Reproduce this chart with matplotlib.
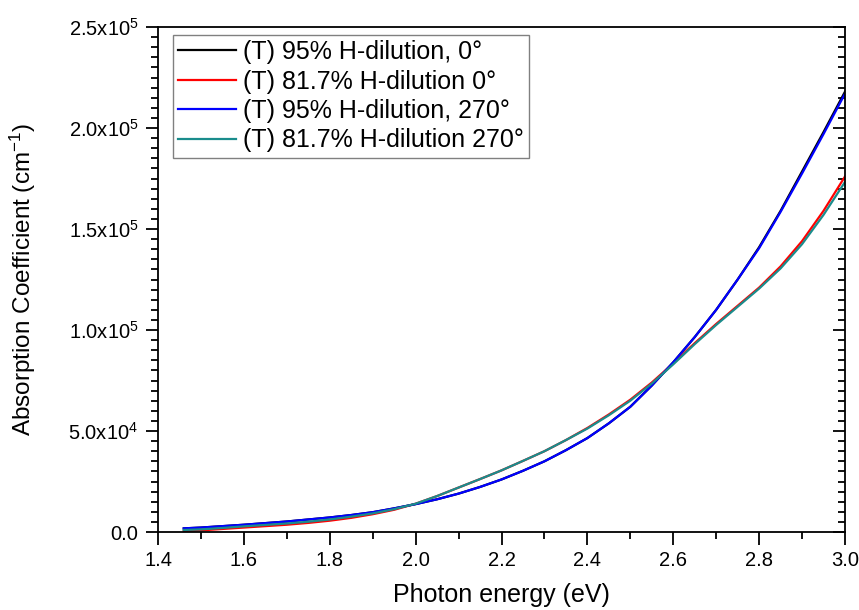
import numpy as np
import matplotlib
matplotlib.use('Agg')
import matplotlib.pyplot as plt
from matplotlib.ticker import MultipleLocator, FuncFormatter

plt.rcParams['font.family'] = ['Liberation Sans', 'DejaVu Sans']
plt.rcParams['mathtext.default'] = 'regular'

# photon energy (eV)
energy = [1.46, 1.5, 1.55, 1.6, 1.65, 1.7, 1.75, 1.8, 1.85, 1.9, 1.95, 2.0,
          2.05, 2.1, 2.15, 2.2, 2.25, 2.3, 2.35, 2.4, 2.45, 2.5, 2.55, 2.6,
          2.65, 2.7, 2.75, 2.8, 2.85, 2.9, 2.95, 3.0]

# absorption coefficient (cm^-1)
h95_0 = [1.8e3, 2.2e3, 2.9e3, 3.6e3, 4.4e3, 5.2e3, 6.2e3, 7.2e3, 8.4e3, 9.8e3, 1.17e4, 1.38e4,
         1.62e4, 1.9e4, 2.23e4, 2.6e4, 3.03e4, 3.5e4, 4.05e4, 4.65e4, 5.38e4, 6.2e4, 7.25e4, 8.4e4,
         9.65e4, 1.10e5, 1.25e5, 1.41e5, 1.59e5, 1.785e5, 1.98e5, 2.18e5]
h817_0 = [5e2, 8e2, 1.5e3, 2.2e3, 2.9e3, 3.6e3, 4.5e3, 5.6e3, 7.0e3, 8.8e3, 1.1e4, 1.4e4,
          1.78e4, 2.2e4, 2.62e4, 3.05e4, 3.52e4, 4.0e4, 4.55e4, 5.15e4, 5.82e4, 6.55e4, 7.4e4, 8.35e4,
          9.35e4, 1.03e5, 1.12e5, 1.21e5, 1.315e5, 1.44e5, 1.59e5, 1.76e5]
h95_270 = [1.8e3, 2.2e3, 2.9e3, 3.6e3, 4.4e3, 5.2e3, 6.2e3, 7.2e3, 8.4e3, 9.8e3, 1.17e4, 1.38e4,
           1.62e4, 1.9e4, 2.23e4, 2.6e4, 3.03e4, 3.5e4, 4.05e4, 4.65e4, 5.38e4, 6.2e4, 7.25e4, 8.4e4,
           9.65e4, 1.10e5, 1.25e5, 1.405e5, 1.585e5, 1.775e5, 1.97e5, 2.17e5]
h817_270 = [1.0e3, 1.3e3, 2.0e3, 2.8e3, 3.5e3, 4.2e3, 5.1e3, 6.2e3, 7.6e3, 9.2e3, 1.13e4, 1.4e4,
            1.78e4, 2.2e4, 2.62e4, 3.05e4, 3.52e4, 4.0e4, 4.55e4, 5.12e4, 5.78e4, 6.5e4, 7.35e4, 8.3e4,
            9.3e4, 1.025e5, 1.115e5, 1.205e5, 1.305e5, 1.425e5, 1.57e5, 1.733e5]

labels = ['(T) 95% H-dilution, 0°', '(T) 81.7% H-dilution 0°',
          '(T) 95% H-dilution, 270°', '(T) 81.7% H-dilution 270°']
colors = ['black', 'red', 'blue', '#1a8c8c']

fig = plt.figure(figsize=(8.59, 6.10), dpi=100)
ax = fig.add_axes([158/859, 1-532/610, (845-158)/859, (532-27)/610])

for y, lab, c in zip([h95_0, h817_0, h95_270, h817_270], labels, colors):
    ax.plot(energy, y, color=c, lw=1.6, label=lab)

ax.set_xlim(1.4, 3.0)
ax.set_ylim(0, 2.5e5)
ax.xaxis.set_major_locator(MultipleLocator(0.2))
ax.xaxis.set_minor_locator(MultipleLocator(0.1))
ax.yaxis.set_major_locator(MultipleLocator(5e4))
ax.yaxis.set_minor_locator(MultipleLocator(5e3))
ax.xaxis.set_major_formatter(FuncFormatter(lambda v, p: '%.1f' % v))


def yfmt(v, p):
    if v <= 0:
        return '0.0'
    e = int(np.floor(np.log10(v)))
    return '%.1fx10$^{%d}$' % (v / 10**e, e)


ax.yaxis.set_major_formatter(FuncFormatter(yfmt))

ax.tick_params(axis='both', which='major', direction='out', length=9, width=1.3,
               labelsize=14.5, top=False, right=True, pad=5)
ax.tick_params(axis='both', which='minor', direction='out', length=5, width=1.3,
               top=False, right=True)
for sp in ax.spines.values():
    sp.set_linewidth(1.3)

# right-side ticks point inward
for t in ax.yaxis.get_major_ticks() + ax.yaxis.get_minor_ticks():
    t.tick2line.set_marker(matplotlib.lines.TICKLEFT)

ax.set_xlabel('Photon energy (eV)', fontsize=18, labelpad=9)
ax.set_ylabel('Absorption Coefficient (cm$^{-1}$)', fontsize=17.5, labelpad=22)

leg = ax.legend(loc='upper left', bbox_to_anchor=(15/687, 1-8/505), borderaxespad=0,
                fontsize=18, handlelength=2.3, handletextpad=0.3,
                borderpad=0.2, labelspacing=0.22, fancybox=False, framealpha=1)
leg.get_frame().set_edgecolor('gray')
leg.get_frame().set_linewidth(1.0)

fig.savefig('out.png', dpi=100)
